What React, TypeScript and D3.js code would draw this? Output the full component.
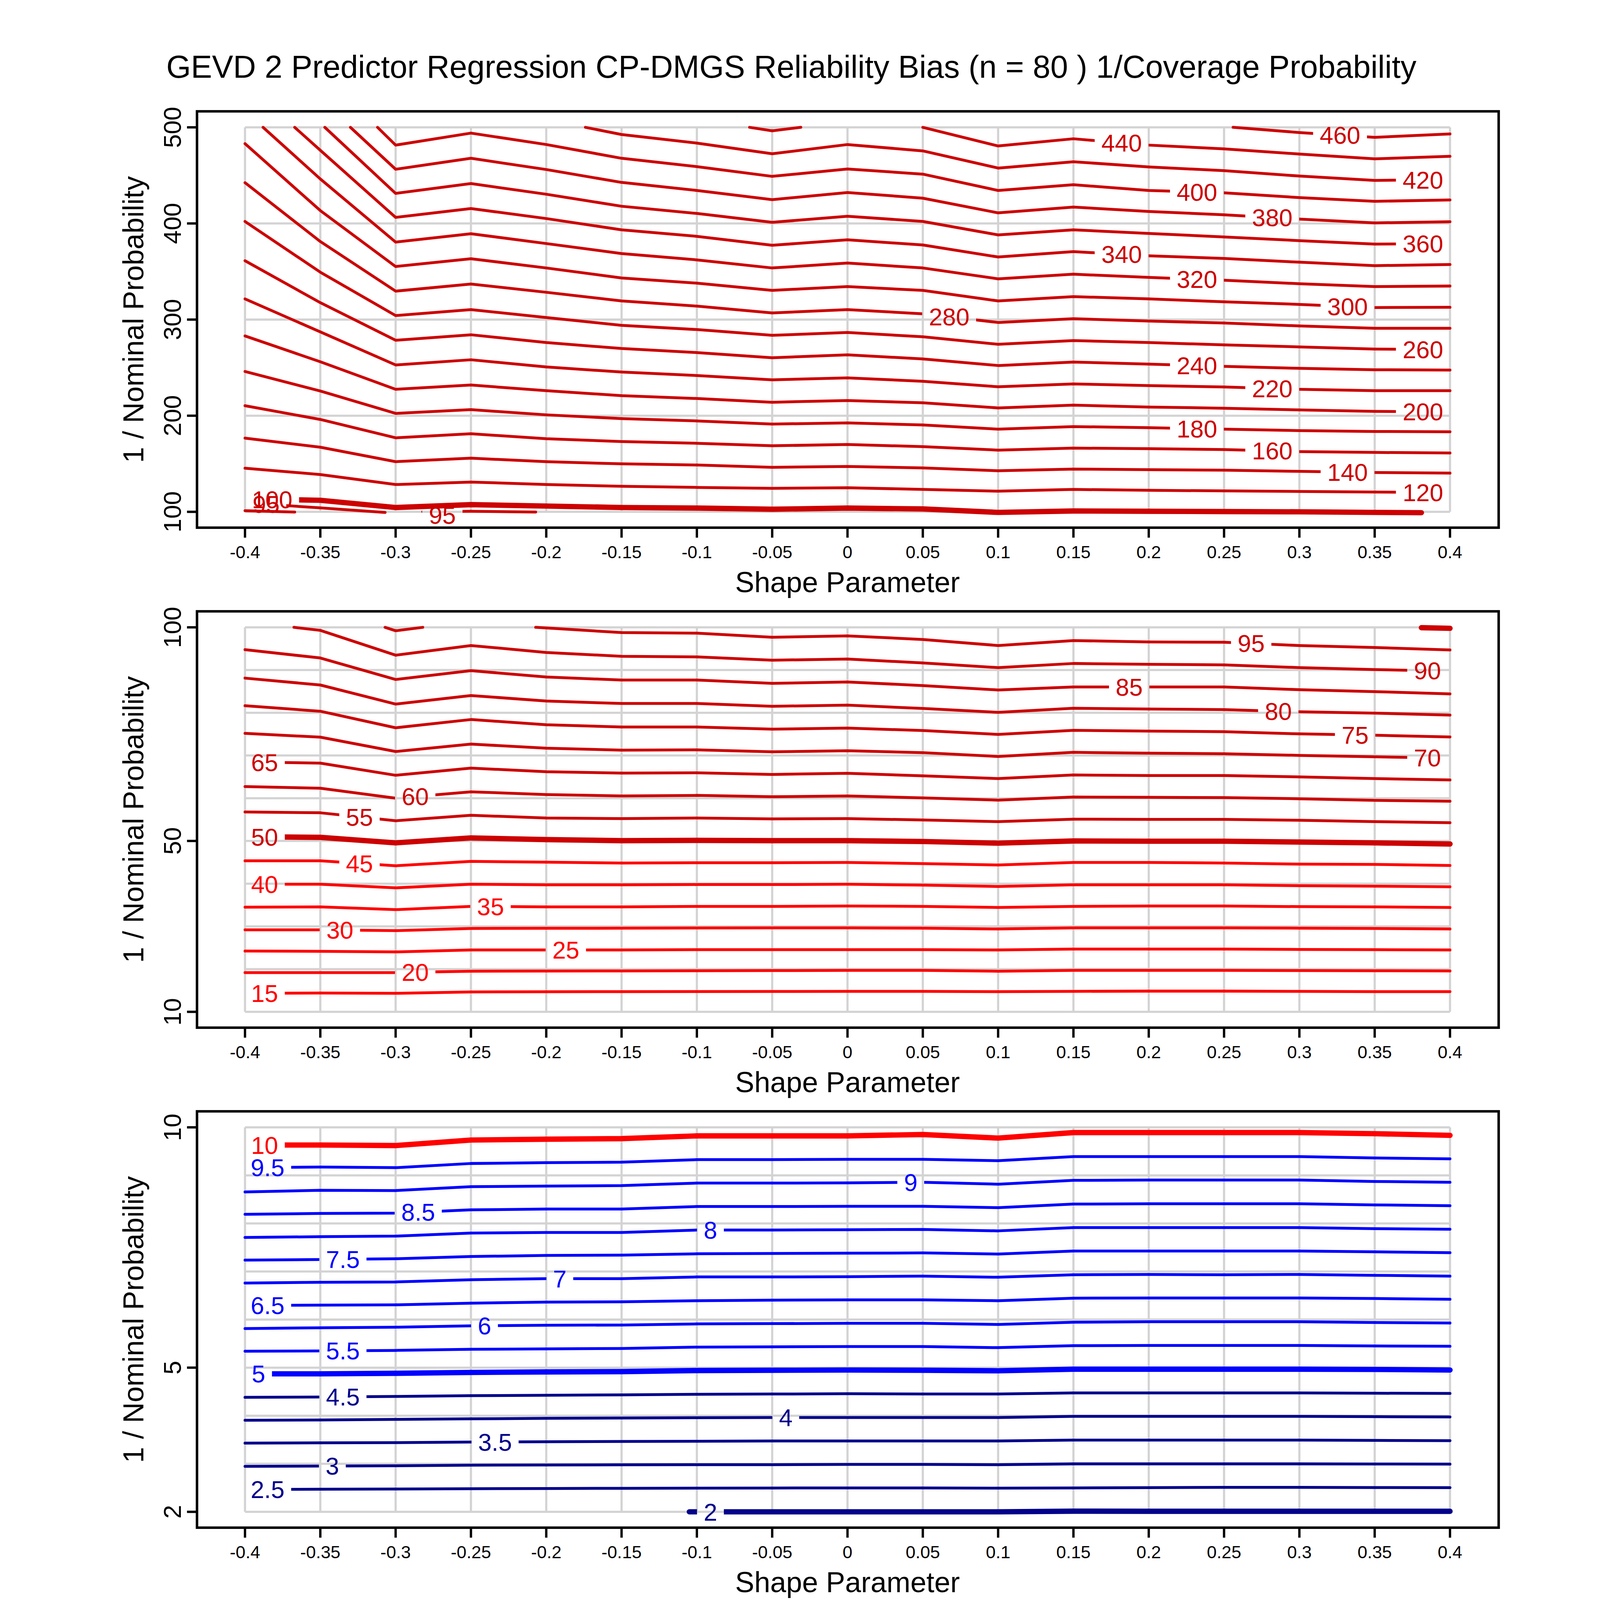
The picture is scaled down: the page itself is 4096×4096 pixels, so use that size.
import React from 'react';
import * as d3 from 'd3';

// ---------------- data ----------------
const SHAPES = [-0.4, -0.35, -0.3, -0.25, -0.2, -0.15, -0.1, -0.05, 0, 0.05, 0.1, 0.15, 0.2, 0.25, 0.3, 0.35, 0.4];
const X_TICK_LABELS = ['-0.4', '-0.35', '-0.3', '-0.25', '-0.2', '-0.15', '-0.1', '-0.05', '0', '0.05', '0.1', '0.15', '0.2', '0.25', '0.3', '0.35', '0.4'];

const TITLE = 'GEVD 2 Predictor Regression CP-DMGS Reliability Bias (n = 80 ) 1/Coverage Probability';
const X_LABEL = 'Shape Parameter';
const Y_LABEL = '1 / Nominal Probability';

const P1_Y_TICKS = [100, 200, 300, 400, 500];
const P1_Y_GRID = [100, 200, 300, 400, 500];
const P2_Y_TICKS = [10, 50, 100];
const P2_Y_GRID = [10, 20, 30, 40, 50, 60, 70, 80, 90, 100];
const P3_Y_TICKS = [2, 5, 10];
const P3_Y_GRID = [2, 3, 4, 5, 6, 7, 8, 9, 10];
const THICK_LEVELS = [2, 5, 10, 50, 100];

type Pt = [number, number];
type Piece = { id: string; level: number; ys?: (number | null)[]; start?: Pt; end?: Pt; pts?: Pt[] };
type Label = { id: string; x: number; y?: number };

const _ = null;

// Panel 1 : 1/coverage contours, 1/nominal 100..500
const P1_PIECES: Piece[] = [
  { id: '95a', level: 95, pts: [[-0.4, 101.2], [-0.367, 99.8]] },
  { id: '95b', level: 95, pts: [[-0.4, 109.4], [-0.35, 104.1], [-0.307, 99.4]] },
  { id: '95c', level: 95, pts: [[-0.282, 100.2], [-0.25, 100.6], [-0.207, 99.8]] },
  { id: '100', level: 100, ys: [113.5, 112.0, 104.5, 107.5, 106.0, 104.5, 103.9, 102.7, 103.9, 103.0, 99.4, 100.9, 100.6, 100.3, 100.0, 99.4, _], end: [0.381, 99.1] },
  { id: '120', level: 120, ys: [145.4, 138.8, 128.4, 131.0, 128.4, 126.6, 125.4, 124.5, 125.1, 123.3, 121.5, 123.3, 122.4, 121.8, 121.2, 120.6, 120.0] },
  { id: '140', level: 140, ys: [176.7, 167.2, 152.2, 155.8, 152.2, 149.9, 148.7, 146.3, 147.2, 145.7, 142.7, 144.5, 143.9, 143.3, 142.1, 140.9, 140.3] },
  { id: '160', level: 160, ys: [210.4, 196.1, 177.0, 181.2, 176.1, 173.1, 171.3, 168.7, 170.1, 167.8, 164.2, 166.3, 165.7, 164.8, 162.7, 161.8, 161.2] },
  { id: '180', level: 180, ys: [246.0, 225.7, 202.4, 206.3, 200.9, 197.0, 194.6, 191.3, 192.5, 190.4, 186.0, 188.7, 187.5, 186.0, 184.5, 183.6, 183.3] },
  { id: '200', level: 200, ys: [283.0, 256.1, 227.5, 231.9, 226.0, 220.9, 217.9, 214.0, 215.8, 213.4, 208.1, 211.0, 209.0, 207.8, 206.0, 204.5, 203.9] },
  { id: '220', level: 220, ys: [321.5, 287.2, 252.8, 258.2, 250.7, 245.4, 241.8, 237.3, 239.4, 235.8, 230.1, 233.1, 231.3, 229.9, 227.5, 226.0, 226.0] },
  { id: '240', level: 240, ys: [361.2, 317.6, 278.5, 284.2, 276.1, 269.9, 265.7, 260.3, 263.3, 259.1, 252.2, 255.8, 253.7, 251.3, 249.3, 247.8, 247.5] },
  { id: '260', level: 260, ys: [402.1, 349.3, 304.2, 310.4, 302.1, 294.0, 289.6, 283.6, 286.6, 282.1, 274.3, 278.2, 276.1, 273.7, 271.6, 269.3, 268.7] },
  { id: '280', level: 280, ys: [442.4, 381.2, 329.6, 337.0, 328.4, 319.4, 314.0, 306.9, 310.4, 306.0, 297.0, 300.9, 298.5, 296.4, 293.4, 291.0, 291.0] },
  { id: '300', level: 300, ys: [483.0, 413.4, 355.2, 363.3, 353.7, 343.3, 337.9, 330.4, 334.3, 330.4, 319.4, 323.9, 321.5, 318.5, 315.8, 312.5, 312.8] },
  { id: '320', level: 320, start: [-0.388, 500], ys: [_, 446.3, 380.6, 389.3, 379.1, 368.7, 362.1, 353.7, 358.8, 353.7, 342.4, 347.2, 343.9, 340.9, 337.3, 334.3, 334.9] },
  { id: '340', level: 340, start: [-0.367, 500], ys: [_, 476.1, 406.3, 415.5, 405.1, 393.4, 386.6, 377.3, 383.0, 377.6, 365.1, 370.7, 366.3, 363.6, 359.7, 356.1, 357.3] },
  { id: '360', level: 360, start: [-0.347, 500], ys: [_, _, 431.3, 441.5, 430.4, 417.9, 410.4, 401.2, 407.5, 402.1, 388.1, 393.4, 389.6, 386.0, 382.1, 378.5, 379.0] },
  { id: '380', level: 380, start: [-0.330, 500], ys: [_, _, 456.4, 467.8, 456.1, 442.7, 434.3, 424.8, 432.2, 426.3, 411.0, 417.0, 412.5, 409.0, 404.5, 400.6, 401.8] },
  { id: '400', level: 400, start: [-0.312, 500], ys: [_, _, 481.5, 494.0, 482.1, 467.8, 459.1, 449.0, 456.7, 451.3, 434.3, 440.3, 434.3, 431.9, 426.9, 423.0, 424.5] },
  { id: '420', level: 420, start: [-0.174, 500], ys: [_, _, _, _, _, 492.5, 483.6, 472.5, 482.1, 475.5, 457.6, 464.2, 458.8, 454.9, 449.3, 444.8, 445.7] },
  { id: '440a', level: 440, pts: [[-0.065, 500], [-0.05, 496.4], [-0.031, 500]] },
  { id: '440b', level: 440, ys: [_, _, _, _, _, _, _, _, _, 500, 480.6, 488.1, 481.5, 477.6, 472.2, 467.2, 469.9] },
  { id: '460', level: 460, start: [0.256, 500], ys: [_, _, _, _, _, _, _, _, _, _, _, _, _, _, 494.6, 489.6, 493.1] },
];

const P1_LABELS: Label[] = [
  { id: '460', x: 0.327 }, { id: '440b', x: 0.182 }, { id: '420', x: 0.382 }, { id: '400', x: 0.232 },
  { id: '380', x: 0.282 }, { id: '360', x: 0.382 }, { id: '340', x: 0.182 }, { id: '320', x: 0.232 },
  { id: '300', x: 0.332 }, { id: '280', x: 0.0675 }, { id: '260', x: 0.382 }, { id: '240', x: 0.232 },
  { id: '220', x: 0.282 }, { id: '200', x: 0.382 }, { id: '180', x: 0.232 }, { id: '160', x: 0.282 },
  { id: '140', x: 0.332 }, { id: '120', x: 0.382 }, { id: '100', x: -0.382 }, { id: '95b', x: -0.386 },
  { id: '95c', x: -0.269, y: 96.5 },
];

// Panel 2 : 1/nominal 10..100
const P2_PIECES: Piece[] = [
  { id: '15', level: 15, ys: [14.34, 14.40, 14.34, 14.66, 14.70, 14.72, 14.74, 14.76, 14.79, 14.79, 14.72, 14.79, 14.85, 14.85, 14.79, 14.73, 14.73] },
  { id: '20', level: 20, ys: [19.19, 19.19, 19.19, 19.51, 19.55, 19.58, 19.62, 19.66, 19.70, 19.70, 19.51, 19.70, 19.70, 19.70, 19.66, 19.62, 19.57] },
  { id: '25', level: 25, ys: [24.23, 24.16, 24.03, 24.48, 24.48, 24.48, 24.55, 24.55, 24.55, 24.55, 24.48, 24.68, 24.68, 24.68, 24.61, 24.55, 24.48] },
  { id: '30', level: 30, ys: [29.20, 29.20, 29.00, 29.52, 29.55, 29.58, 29.62, 29.65, 29.65, 29.59, 29.39, 29.65, 29.65, 29.65, 29.59, 29.52, 29.39] },
  { id: '35', level: 35, ys: [34.50, 34.56, 33.92, 34.69, 34.56, 34.56, 34.69, 34.69, 34.76, 34.69, 34.43, 34.69, 34.76, 34.76, 34.63, 34.56, 34.43] },
  { id: '40', level: 40, ys: [39.86, 39.86, 39.02, 39.86, 39.73, 39.73, 39.79, 39.79, 39.86, 39.66, 39.34, 39.73, 39.73, 39.73, 39.53, 39.41, 39.28] },
  { id: '45', level: 45, ys: [45.35, 45.35, 44.19, 45.22, 45.03, 44.83, 44.90, 44.90, 44.96, 44.70, 44.38, 44.96, 44.96, 44.83, 44.57, 44.51, 44.25] },
  { id: '50', level: 50, ys: [51.00, 50.84, 49.55, 50.71, 50.32, 50.06, 50.13, 50.06, 50.06, 49.87, 49.48, 50.00, 49.94, 49.94, 49.74, 49.55, 49.29] },
  { id: '55', level: 55, ys: [56.78, 56.59, 54.72, 56.01, 55.36, 55.23, 55.36, 55.17, 55.23, 54.91, 54.52, 55.10, 55.04, 55.04, 54.85, 54.52, 54.26] },
  { id: '60', level: 60, ys: [62.73, 62.34, 60.01, 61.50, 60.85, 60.53, 60.66, 60.34, 60.53, 60.08, 59.56, 60.27, 60.21, 60.14, 59.88, 59.50, 59.30] },
  { id: '65', level: 65, ys: [68.48, 68.22, 65.37, 67.05, 66.21, 65.89, 65.96, 65.57, 65.83, 65.25, 64.60, 65.44, 65.31, 65.31, 64.99, 64.60, 64.28] },
  { id: '70', level: 70, ys: [75.19, 74.29, 70.93, 72.67, 71.71, 71.25, 71.32, 70.87, 71.12, 70.67, 69.77, 70.74, 70.54, 70.41, 70.03, 69.70, 69.38] },
  { id: '75', level: 75, ys: [81.65, 80.36, 76.49, 78.42, 77.20, 76.68, 76.68, 76.16, 76.42, 75.84, 74.94, 75.90, 75.71, 75.58, 75.06, 74.74, 74.35] },
  { id: '80', level: 80, ys: [88.11, 86.50, 82.04, 84.04, 82.75, 82.17, 82.17, 81.52, 81.78, 81.01, 80.10, 81.07, 80.88, 80.75, 80.23, 79.91, 79.46] },
  { id: '85', level: 85, ys: [94.77, 92.83, 87.79, 89.86, 88.37, 87.66, 87.66, 86.89, 87.21, 86.37, 85.34, 86.05, 86.05, 86.05, 85.40, 84.95, 84.43] },
  { id: '90', level: 90, start: [-0.3675, 100], ys: [_, 99.29, 93.48, 95.74, 94.12, 93.22, 93.09, 92.31, 92.57, 91.67, 90.57, 91.54, 91.34, 91.21, 90.57, 90.12, 89.73] },
  { id: '95a', level: 95, pts: [[-0.307, 100], [-0.3, 99.2], [-0.282, 100]] },
  { id: '95b', level: 95, start: [-0.207, 100], ys: [_, _, _, _, _, 98.77, 98.64, 97.67, 98.00, 97.16, 95.74, 96.90, 96.58, 96.51, 95.74, 95.28, 94.70] },
  { id: '100', level: 100, pts: [[0.381, 99.92], [0.4, 99.77]] },
];

const P2_LABELS: Label[] = [
  { id: '95b', x: 0.268 }, { id: '90', x: 0.385 }, { id: '85', x: 0.187 }, { id: '80', x: 0.286 },
  { id: '75', x: 0.337 }, { id: '70', x: 0.385 }, { id: '65', x: -0.387 }, { id: '60', x: -0.287 },
  { id: '55', x: -0.324 }, { id: '50', x: -0.387 }, { id: '45', x: -0.324 }, { id: '40', x: -0.387 },
  { id: '35', x: -0.237 }, { id: '30', x: -0.337 }, { id: '25', x: -0.187 }, { id: '20', x: -0.287 },
  { id: '15', x: -0.387 },
];

// Panel 3 : 1/nominal 2..10
const P3_PIECES: Piece[] = [
  { id: '2', level: 2, start: [-0.105, 2.0], ys: [_, _, _, _, _, _, 2.0, 2.0, 2.0, 2.0, 2.0, 2.014, 2.012, 2.012, 2.012, 2.012, 2.011] },
  { id: '2.5', level: 2.5, ys: [2.464, 2.470, 2.475, 2.481, 2.485, 2.490, 2.493, 2.496, 2.498, 2.498, 2.493, 2.498, 2.504, 2.509, 2.509, 2.506, 2.504] },
  { id: '3', level: 3, ys: [2.947, 2.952, 2.958, 2.970, 2.975, 2.978, 2.981, 2.981, 2.987, 2.987, 2.981, 2.998, 2.998, 2.998, 2.998, 2.995, 2.992] },
  { id: '3.5', level: 3.5, ys: [3.429, 3.435, 3.440, 3.452, 3.458, 3.464, 3.469, 3.475, 3.475, 3.475, 3.475, 3.492, 3.492, 3.492, 3.492, 3.486, 3.481] },
  { id: '4', level: 4, ys: [3.906, 3.912, 3.923, 3.935, 3.945, 3.952, 3.958, 3.963, 3.963, 3.963, 3.963, 3.986, 3.986, 3.986, 3.986, 3.980, 3.975] },
  { id: '4.5', level: 4.5, ys: [4.382, 4.388, 4.400, 4.417, 4.425, 4.434, 4.446, 4.451, 4.457, 4.451, 4.451, 4.474, 4.474, 4.474, 4.474, 4.468, 4.463] },
  { id: '5', level: 5, ys: [4.871, 4.871, 4.882, 4.900, 4.911, 4.917, 4.940, 4.945, 4.951, 4.945, 4.934, 4.968, 4.968, 4.968, 4.968, 4.963, 4.951] },
  { id: '5.5', level: 5.5, ys: [5.342, 5.348, 5.359, 5.382, 5.390, 5.399, 5.428, 5.433, 5.439, 5.439, 5.416, 5.457, 5.462, 5.462, 5.462, 5.451, 5.445] },
  { id: '6', level: 6, ys: [5.813, 5.830, 5.842, 5.870, 5.882, 5.887, 5.910, 5.916, 5.922, 5.922, 5.899, 5.945, 5.956, 5.956, 5.956, 5.939, 5.928] },
  { id: '6.5', level: 6.5, ys: [6.295, 6.300, 6.307, 6.341, 6.364, 6.370, 6.393, 6.404, 6.410, 6.410, 6.393, 6.445, 6.450, 6.450, 6.450, 6.439, 6.422] },
  { id: '7', level: 7, ys: [6.760, 6.777, 6.783, 6.829, 6.852, 6.852, 6.887, 6.887, 6.893, 6.904, 6.881, 6.933, 6.939, 6.933, 6.939, 6.921, 6.904] },
  { id: '7.5', level: 7.5, ys: [7.237, 7.250, 7.266, 7.312, 7.335, 7.341, 7.369, 7.375, 7.381, 7.387, 7.364, 7.427, 7.427, 7.427, 7.427, 7.410, 7.392] },
  { id: '8', level: 8, ys: [7.708, 7.725, 7.737, 7.800, 7.812, 7.812, 7.863, 7.863, 7.869, 7.875, 7.846, 7.915, 7.915, 7.915, 7.915, 7.892, 7.880] },
  { id: '8.5', level: 8.5, ys: [8.191, 8.208, 8.214, 8.283, 8.300, 8.300, 8.352, 8.352, 8.357, 8.357, 8.329, 8.403, 8.409, 8.409, 8.409, 8.386, 8.369] },
  { id: '9', level: 9, ys: [8.656, 8.690, 8.685, 8.765, 8.777, 8.788, 8.840, 8.840, 8.845, 8.857, 8.817, 8.897, 8.903, 8.903, 8.903, 8.874, 8.857] },
  { id: '9.5', level: 9.5, ys: [9.161, 9.173, 9.161, 9.248, 9.265, 9.276, 9.328, 9.328, 9.334, 9.334, 9.305, 9.391, 9.391, 9.391, 9.391, 9.362, 9.345] },
  { id: '10', level: 10, ys: [9.632, 9.632, 9.621, 9.736, 9.753, 9.765, 9.822, 9.822, 9.822, 9.851, 9.776, 9.891, 9.891, 9.891, 9.891, 9.868, 9.833] },
];

const P3_LABELS: Label[] = [
  { id: '10', x: -0.387 }, { id: '9.5', x: -0.385 }, { id: '9', x: 0.042 }, { id: '8.5', x: -0.285 },
  { id: '8', x: -0.091 }, { id: '7.5', x: -0.335 }, { id: '7', x: -0.191 }, { id: '6.5', x: -0.385 },
  { id: '6', x: -0.241 }, { id: '5.5', x: -0.335 }, { id: '5', x: -0.391 }, { id: '4.5', x: -0.335 },
  { id: '4', x: -0.041 }, { id: '3.5', x: -0.234 }, { id: '3', x: -0.342 }, { id: '2.5', x: -0.385 },
  { id: '2', x: -0.091 },
];

// ---------------- styling / layout (reference pixel space 4800) ----------------
const K = 4096 / 4800;
const FONT = "'Liberation Sans', Arial, Helvetica, sans-serif";
const FRAME = { x0: 591, x1: 4496, y0: 334, y1: 1583 };
const PLOT = { x0: 735, x1: 4350, y0: 382, y1: 1535.5 };
const STEP = 1500;
const LAB_FS = 73;
const THIN = 8.5;
const THICK = 16;

function colorP1(_l: number) { return '#CD0000'; }
function colorP2(l: number) { return l >= 50 ? '#CD0000' : '#FF0000'; }
function colorP3(l: number) { return l >= 10 ? '#FF0000' : l >= 5 ? '#0000FF' : '#00008B'; }

function piecePoints(p: Piece): Pt[] {
  if (p.pts) return p.pts;
  const out: Pt[] = [];
  if (p.start) out.push(p.start);
  (p.ys || []).forEach((v, i) => { if (v != null) out.push([SHAPES[i], v]); });
  if (p.end) out.push(p.end);
  return out;
}

function interpY(pts: Pt[], xv: number): number {
  if (xv <= pts[0][0]) return pts[0][1];
  for (let i = 0; i < pts.length - 1; i++) {
    const a = pts[i], b = pts[i + 1];
    if (xv >= a[0] && xv <= b[0]) {
      const t = (xv - a[0]) / (b[0] - a[0] || 1);
      return a[1] + t * (b[1] - a[1]);
    }
  }
  return pts[pts.length - 1][1];
}

function textW(s: string, fs: number) {
  let w = 0;
  for (const c of s) w += c === '.' ? 0.278 : 0.556;
  return w * fs;
}

const xScale = d3.scaleLinear().domain([-0.4, 0.4]).range([PLOT.x0, PLOT.x1]);

function Panel(props: {
  idx: number; domain: [number, number]; yTicks: number[]; yGrid: number[];
  pieces: Piece[]; labels: Label[]; color: (l: number) => string;
}) {
  const { idx, domain, yTicks, yGrid, pieces, labels, color } = props;
  const off = idx * STEP;
  const y = d3.scaleLinear().domain(domain).range([PLOT.y1 + off, PLOT.y0 + off]);
  const line = d3.line<Pt>().x(d => xScale(d[0])).y(d => y(d[1]));
  const byId = new Map(pieces.map(p => [p.id, p]));
  const pad = 20;
  const labs = labels.map(l => {
    const p = byId.get(l.id)!;
    const pts = piecePoints(p);
    const ly = l.y != null ? l.y : interpY(pts, l.x);
    const text = String(p.level);
    const cx = xScale(l.x);
    const w = textW(text, LAB_FS);
    let bx0 = cx - w / 2 - pad;
    let bx1 = cx + w / 2 + pad;
    if (bx0 < PLOT.x0 + 40) bx0 = PLOT.x0 - 30;
    if (bx1 > PLOT.x1 - 40) bx1 = PLOT.x1 + 30;
    return { id: l.id, cx, cy: y(ly), text, bx0, bx1, col: color(p.level) };
  });
  return (
    <g>
      <defs>
        {pieces.map(p => {
          const my = labs.filter(l => l.id === p.id);
          if (!my.length) return null;
          return (
            <mask key={p.id} id={`m${idx}-${p.id.replace('.', '_')}`} maskUnits="userSpaceOnUse" x={0} y={0} width={4800} height={4800}>
              <rect x={0} y={0} width={4800} height={4800} fill="white" />
              {my.map((l, i) => (
                <rect key={i} x={l.bx0} y={l.cy - LAB_FS * 0.42} width={l.bx1 - l.bx0} height={LAB_FS * 0.84} fill="black" />
              ))}
            </mask>
          );
        })}
      </defs>
      {/* grid */}
      {SHAPES.map((s, i) => (
        <line key={'gv' + i} x1={xScale(s)} x2={xScale(s)} y1={y(domain[0])} y2={y(domain[1])} stroke="#D3D3D3" strokeWidth={6.5} />
      ))}
      {yGrid.map((g, i) => (
        <line key={'gh' + i} x1={PLOT.x0} x2={PLOT.x1} y1={y(g)} y2={y(g)} stroke="#D3D3D3" strokeWidth={6.5} />
      ))}
      {/* contours */}
      {pieces.map(p => {
        const has = labs.some(l => l.id === p.id);
        return (
          <path key={p.id} d={line(piecePoints(p)) || ''} fill="none" stroke={color(p.level)}
            strokeWidth={THICK_LEVELS.includes(p.level) ? THICK : THIN}
            strokeLinecap="round" strokeLinejoin="round"
            mask={has ? `url(#m${idx}-${p.id.replace('.', '_')})` : undefined} />
        );
      })}
      {labs.map((l, i) => (
        <text key={'l' + i} x={l.cx} y={l.cy + LAB_FS * 0.358} textAnchor="middle" fontFamily={FONT} fontSize={LAB_FS} fill={l.col}>{l.text}</text>
      ))}
      {/* frame */}
      <rect x={FRAME.x0} y={FRAME.y0 + off} width={FRAME.x1 - FRAME.x0} height={FRAME.y1 - FRAME.y0} fill="none" stroke="#000" strokeWidth={7.5} />
      {/* x ticks */}
      {SHAPES.map((s, i) => (
        <g key={'xt' + i}>
          <line x1={xScale(s)} x2={xScale(s)} y1={FRAME.y1 + off} y2={FRAME.y1 + off + 30} stroke="#000" strokeWidth={7} />
          <text x={xScale(s)} y={1675 + off} textAnchor="middle" fontFamily={FONT} fontSize={53} fill="#000">{X_TICK_LABELS[i]}</text>
        </g>
      ))}
      {/* y ticks */}
      {yTicks.map((t, i) => (
        <g key={'yt' + i}>
          <line x1={FRAME.x0 - 30} x2={FRAME.x0} y1={y(t)} y2={y(t)} stroke="#000" strokeWidth={7} />
          <text transform={`translate(543, ${y(t)}) rotate(-90)`} textAnchor="middle" fontFamily={FONT} fontSize={74} fill="#000">{String(t)}</text>
        </g>
      ))}
      <text x={(PLOT.x0 + PLOT.x1) / 2} y={1776 + off} textAnchor="middle" fontFamily={FONT} fontSize={86} fill="#000">{X_LABEL}</text>
      <text transform={`translate(430, ${(FRAME.y0 + FRAME.y1) / 2 + off}) rotate(-90)`} textAnchor="middle" fontFamily={FONT} fontSize={86} fill="#000">{Y_LABEL}</text>
    </g>
  );
}

export default function App() {
  return (
    <svg width={4096} height={4096} viewBox="0 0 4096 4096" style={{ position: 'absolute', left: 0, top: 0, background: '#fff' }}>
      <rect x={0} y={0} width={4096} height={4096} fill="#fff" />
      <g transform={`scale(${K})`}>
        <text x={2374} y={233} textAnchor="middle" fontFamily={FONT} fontSize={95} fill="#000">{TITLE}</text>
        <Panel idx={0} domain={[100, 500]} yTicks={P1_Y_TICKS} yGrid={P1_Y_GRID} pieces={P1_PIECES} labels={P1_LABELS} color={colorP1} />
        <Panel idx={1} domain={[10, 100]} yTicks={P2_Y_TICKS} yGrid={P2_Y_GRID} pieces={P2_PIECES} labels={P2_LABELS} color={colorP2} />
        <Panel idx={2} domain={[2, 10]} yTicks={P3_Y_TICKS} yGrid={P3_Y_GRID} pieces={P3_PIECES} labels={P3_LABELS} color={colorP3} />
      </g>
    </svg>
  );
}
